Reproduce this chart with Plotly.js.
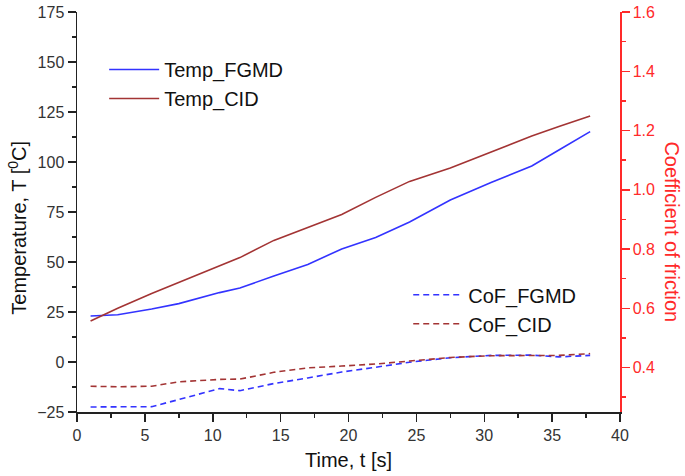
<!DOCTYPE html>
<html>
<head>
<meta charset="utf-8">
<script src="https://cdn.plot.ly/plotly-3.0.1.min.js"></script>
<style>
  html,body{margin:0;padding:0;background:#fff;}
  #chart{width:685px;height:476px;}
</style>
</head>
<body>
<div id="chart"></div>
<script>
  // time stamps [s] shared by all four series
  const time      = [1, 3, 5.5, 7.5, 10.5, 12, 14.5, 17, 19.5, 22, 24.5, 27.5, 30.5, 33.5, 35.5, 37.8];
  // temperatures [°C]
  const tempFGMD  = [23, 23.6, 26.5, 29.2, 34.7, 37, 43, 48.8, 56.5, 62.3, 70, 81, 89.7, 98, 106, 115.2];
  const tempCID   = [20.5, 26.9, 34.3, 39.8, 48.2, 52.2, 60.8, 67.2, 73.8, 82.3, 90.3, 97, 105, 113, 117.7, 123];
  // coefficient of friction
  const cofFGMD   = [0.267, 0.267, 0.268, 0.292, 0.329, 0.322, 0.346, 0.365, 0.385, 0.401, 0.418, 0.433, 0.441, 0.442, 0.436, 0.441];
  const cofCID    = [0.337, 0.335, 0.337, 0.352, 0.360, 0.361, 0.384, 0.399, 0.405, 0.412, 0.422, 0.434, 0.440, 0.442, 0.441, 0.447];

  const BLUE = "#3333ff", BROWN = "#a33434", RED = "#ff2a2a", INK = "#333";
  const FONT = "Liberation Sans, Arial, sans-serif";

  const solid = (y, name, color) => ({type:"scatter", mode:"lines", x:time, y, name,
    line:{color, width:1.6}, legend:"legend"});
  const dashed = (y, name, color) => ({type:"scatter", mode:"lines", x:time, y, name, yaxis:"y2",
    line:{color, width:1.6, dash:"6px,4px"}, legend:"legend2"});

  const traces = [
    solid(tempFGMD, "Temp_FGMD", BLUE),
    solid(tempCID, "Temp_CID", BROWN),
    dashed(cofFGMD, "CoF_FGMD", BLUE),
    dashed(cofCID, "CoF_CID", BROWN)
  ];

  const tickBase = {showgrid:false, zeroline:false, showline:true, linewidth:1.5, tickwidth:1.5, ticklen:8};

  const layout = {
    width:685, height:476,
    paper_bgcolor:"#fff", plot_bgcolor:"#fff",
    font:{family:FONT, color:INK, size:16},
    margin:{l:77, r:65, t:12, b:64},
    showlegend:true,
    xaxis:{...tickBase, range:[0,40], dtick:5, tick0:0, ticks:"outside", linecolor:"#222", tickcolor:"#222",
      minor:{dtick:2.5, ticks:"outside", ticklen:4, tickwidth:1.5, tickcolor:"#222"},
      tickfont:{size:16, color:INK},
      title:{text:"Time, t [s]", font:{size:20, color:"#111"}, standoff:10}},
    xaxis2:{...tickBase, overlaying:"x", side:"top", anchor:"y", range:[0,40], dtick:5, ticks:"inside",
      showticklabels:false, linecolor:"#222", tickcolor:"#222",
      minor:{dtick:2.5, ticks:"inside", ticklen:4, tickwidth:1.5, tickcolor:"#222"}},
    yaxis:{...tickBase, range:[-25,175], dtick:25, tick0:0, ticks:"outside", linecolor:"#222", tickcolor:"#222",
      minor:{dtick:12.5, ticks:"outside", ticklen:4, tickwidth:1.5, tickcolor:"#222"},
      tickfont:{size:16, color:INK}},
    yaxis2:{...tickBase, overlaying:"y", side:"right", range:[0.25,1.6], dtick:0.2, tick0:0, tickformat:".1f",
      ticks:"outside", linecolor:RED, tickcolor:RED,
      minor:{dtick:0.1, ticks:"outside", ticklen:4, tickwidth:1.5, tickcolor:RED},
      tickfont:{size:16, color:RED}},
    legend:{x:0.05, y:0.905, xanchor:"left", yanchor:"top", bgcolor:"rgba(0,0,0,0)",
      font:{size:20, color:"#111"}, itemwidth:50, tracegroupgap:0},
    legend2:{x:0.61, y:0.342, xanchor:"left", yanchor:"top", bgcolor:"rgba(0,0,0,0)",
      font:{size:20, color:"#111"}, itemwidth:50, tracegroupgap:0},
    annotations:[
      {text:"Temperature, T [<sup>0</sup>C]", textangle:-90, xref:"paper", yref:"paper",
        x:-0.111, y:0.46, xanchor:"center", yanchor:"middle", showarrow:false,
        font:{size:20, color:"#111", family:FONT}},
      {text:"Coefficient of friction", textangle:90, xref:"paper", yref:"paper",
        x:1.095, y:0.45, xanchor:"center", yanchor:"middle", showarrow:false,
        font:{size:20, color:RED, family:FONT}}
    ]
  };

  Plotly.newPlot("chart", traces, layout, {displayModeBar:false, responsive:false, staticPlot:true});
</script>
</body>
</html>
